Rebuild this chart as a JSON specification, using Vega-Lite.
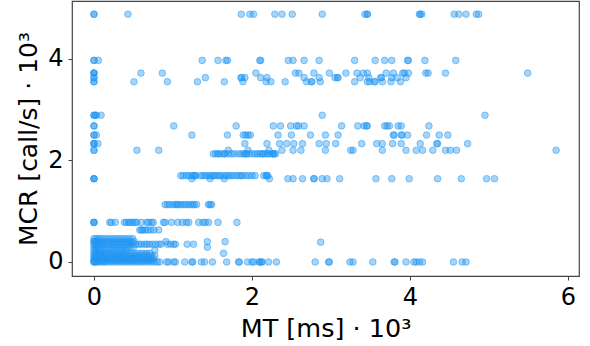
{"$schema":"https://vega.github.io/schema/vega-lite/v6.json","width":507,"height":275,"padding":{"left":72,"top":1,"right":11,"bottom":70},"autosize":{"type":"none"},"background":"white","config":{"view":{"stroke":"#444","strokeWidth":1.2}},
"datasets":{"rows":[
{"mcr":4.88,"mt":[0,0,0.43,1.865,1.975,2.02,2.29,2.38,2.51,2.89,3.43,3.46,3.46,4.12,4.13,4.15,4.56,4.62,4.71,4.84,4.87]},
{"mcr":3.97,"mt":[0,0,0.055,1.37,1.57,1.67,1.69,2.1,2.11,2.46,2.52,2.66,2.85,3.3,3.56,3.68,3.77,3.97,3.98,4.19,4.58]},
{"mcr":3.72,"mt":[0,0,0,0.595,0.865,2.05,2.55,2.595,2.785,2.98,3.19,3.33,3.41,3.46,3.7,3.79,3.91,3.93,3.98,4.2,4.23,4.45,5.49]},
{"mcr":3.63,"mt":[0,0,1.41,1.86,1.87,1.91,2.11,2.19,2.66,2.85,3.05,3.08,3.09,3.37,3.48,3.63,3.64,3.77,3.84,3.95]},
{"mcr":3.55,"mt":[0,0,0.506,0.93,1.31,1.65,1.885,2.18,2.24,2.42,2.69,2.75,2.76,2.865,3.3,3.46,3.49,3.55,3.56,3.65,3.76,3.88]},
{"mcr":2.89,"mt":[0,0,0.02,0.03,0.09,2.89,4.95]},
{"mcr":2.68,"mt":[0,0,1.01,1.8,2.27,2.36,2.49,2.565,2.59,2.66,3.135,3.34,3.42,3.45,3.46,3.68,3.71,3.74,3.85,3.89,4.24]},
{"mcr":2.5,"mt":[0,0,0.03,1.24,1.69,1.89,1.92,1.95,1.98,2.33,2.5,2.74,2.93,3.09,3.79,3.8,3.89,3.9,3.97,4.21,4.37,4.48]},
{"mcr":2.33,"mt":[0,0,0,0.05,1.91,2.19,2.35,2.44,2.53,2.64,2.85,2.94,3.06,3.39,3.58,3.65,3.78,3.89,4.13,4.34,4.35,4.73]},
{"mcr":2.2,"mt":[0,0,0.544,0.82,1.7,1.95,2.215,2.38,2.52,2.62,2.93,3.25,3.28,3.65,3.95,4.08,4.16,4.29,4.45,4.51,4.59,5.85]},
{"mcr":2.13,"mt":[1.51,1.54,1.57,1.58,1.62,1.65,1.66,1.7,1.74,1.78,1.83,1.87,1.9,1.92,1.93,1.96,2.0,2.04,2.07,2.1,2.13,2.14,2.17,2.2,2.22,2.26,2.27,2.28,2.3]},
{"mcr":1.7,"mt":[1.1,1.13,1.17,1.2,1.24,1.26,1.28,1.29,1.35,1.38,1.41,1.44,1.47,1.5,1.52,1.55,1.58,1.6,1.64,1.67,1.7,1.73,1.76,1.8,1.83,1.86,1.88,1.92,1.96,2.0,2.04,2.15,2.18,2.2,2.19]},
{"mcr":1.64,"mt":[0,0,0,1.24,1.47,1.65,2.22,2.455,2.52,2.64,2.78,2.79,2.89,2.95,3.11,3.57,3.77,3.99,4.35,4.65,4.97,5.07]},
{"mcr":1.13,"mt":[0.9,0.93,0.96,1.0,1.03,1.05,1.07,1.1,1.13,1.16,1.19,1.22,1.25,1.27,1.3,1.45,1.47,1.49]},
{"mcr":0.78,"mt":[0,0,0,0.2,0.22,0.27,0.385,0.41,0.44,0.46,0.49,0.52,0.54,0.6,0.67,0.69,0.73,0.75,0.88,0.9,0.98,1.06,1.12,1.17,1.2,1.325,1.38,1.41,1.45,1.57,1.81]},
{"mcr":0.63,"mt":[0.58,0.6,0.62,0.65,0.68,0.72,0.76,0.82]},
{"mcr":0.46,"mt":[0,0.03,0.06,0.09,0.13,0.17,0.21,0.25,0.29,0.33,0.37,0.41,0.45,0.49]},
{"mcr":0.4,"mt":[0,0,0.02,0.05,0.08,0.11,0.15,0.19,0.23,0.27,0.31,0.35,0.39,0.43,0.47,0.51,0.91,1.435,1.66]},
{"mcr":0.35,"mt":[0,0.03,0.06,0.1,0.13,0.17,0.21,0.25,0.29,0.33,0.37,0.41,0.45,0.49,0.53,0.57,0.6,0.64,0.67,0.7,0.74,0.78,0.82,0.85,0.93,0.97,1.01,1.03,1.18,1.26]},
{"mcr":0.29,"mt":[0,0.02,0.05,0.09,0.14,0.19,0.24,0.28,0.33,0.38,0.42,0.46,0.5,1.435]},
{"mcr":0.23,"mt":[0,0.03,0.07,0.11,0.16,0.21,0.26,0.31,0.36,0.41,0.77]},
{"mcr":0.17,"mt":[0,0.02,0.05,0.08,0.12,0.15,0.19,0.23,0.27,0.31,0.35,0.39,0.43,0.47,0.51,0.55,0.59,0.63,0.67,0.71,1.64]},
{"mcr":0.12,"mt":[0,0.03,0.06,0.1,0.13,0.17,0.21,0.25,0.29,0.33,0.37,0.41,0.45,0.49,0.53,0.57,0.61,0.65,0.69,0.73,0.77]},
{"mcr":0.07,"mt":[0,0.02,0.05,0.08,0.11,0.15,0.19,0.23,0.27,0.31,0.35,0.39,0.43,0.47,0.51,0.55,0.59,0.63,0.67,0.71,0.75]},
{"mcr":0.03,"mt":[0,0.03,0.06,0.1,0.14,0.18,0.22,0.26,0.3,0.34,0.38,0.42,0.46,0.5,0.54,0.58,0.62,0.66,0.7,0.74]},
{"mcr":0,"mt":[0,0,0.02,0.04,0.07,0.1,0.13,0.16,0.2,0.24,0.28,0.32,0.36,0.4,0.44,0.48,0.52,0.56,0.6,0.64,0.68,0.72,0.76,0.8,0.83,0.92,0.945,1.01,1.03,1.15,1.24,1.25,1.36,1.4,1.5,1.68,1.83,1.84,1.945,2.0,2.02,2.09,2.1,2.12,2.13,2.21,2.31,2.8,2.97,2.98,3.24,3.28,3.53,3.8,3.81,3.95,4.05,4.08,4.12,4.16,4.55,4.66,4.71]},
{"mcr":0.39,"mt":[2.87]}
]},
"data":{"name":"rows"},
"transform":[{"flatten":["mt"]}],
"mark":{"type":"point","filled":false,"fill":"#2196f3","stroke":"#2196f3","opacity":1,"fillOpacity":0.4,"strokeOpacity":0.5,"strokeWidth":1,"size":44,"shape":"circle"},
"encoding":{
"x":{"field":"mt","type":"quantitative","scale":{"domain":[-0.278,6.14],"nice":false,"zero":false},"axis":{"values":[0,2,4,6],"format":"d","title":"MT [ms] · 10³","grid":false,"domain":false,"tickColor":"#444","tickSize":4,"labelFontSize":24,"titleFontSize":25.5,"labelFont":"DejaVu Sans","titleFont":"DejaVu Sans","titleFontWeight":"normal","labelColor":"#000","titleColor":"#000","labelPadding":5,"titlePadding":7}},
"y":{"field":"mcr","type":"quantitative","scale":{"domain":[-0.276,5.14],"nice":false,"zero":false},"axis":{"values":[0,2,4],"format":"d","title":"MCR [call/s] · 10³","grid":false,"domain":false,"tickColor":"#444","tickSize":4,"labelFontSize":24,"titleFontSize":25,"labelFont":"DejaVu Sans","titleFont":"DejaVu Sans","titleFontWeight":"normal","labelColor":"#000","titleColor":"#000","labelPadding":5,"titlePadding":6}}
}}
